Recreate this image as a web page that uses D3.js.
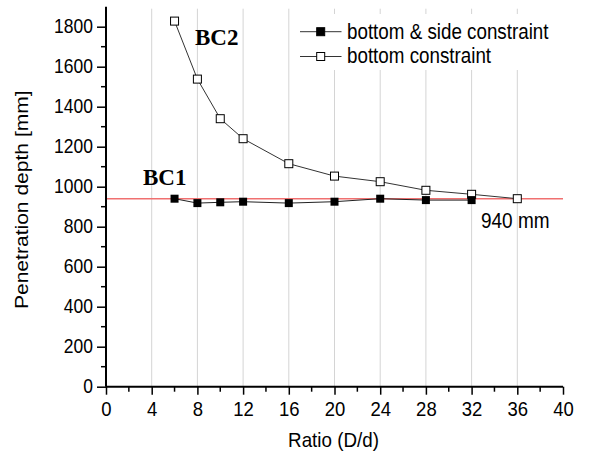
<!DOCTYPE html>
<html>
<head>
<meta charset="utf-8">
<script src="https://cdn.jsdelivr.net/npm/d3@7"></script>
<style>
  html, body { margin: 0; padding: 0; background: #fff; }
  svg { display: block; }
  text { font-family: Arial, "Liberation Sans", sans-serif; fill: #000; }
</style>
</head>
<body>
<svg id="chart" width="589" height="456"></svg>
<script>
// Ratio D/d on the x axis, penetration depth in mm on the y axis
const ratioBoth = [6, 8, 10, 12, 16, 20, 24, 28, 32];
const depthBoth = [940, 918, 922, 925, 918, 925, 940, 933, 933];
const ratioBottom = [6, 8, 10, 12, 16, 20, 24, 28, 32, 36];
const depthBottom = [1828, 1538, 1340, 1240, 1115, 1053, 1025, 982, 962, 940];
const referenceDepth = 940;
const xMajorTicks = [0, 4, 8, 12, 16, 20, 24, 28, 32, 36, 40];
const yMajorTicks = [0, 200, 400, 600, 800, 1000, 1200, 1400, 1600, 1800];
const seriesNames = ["bottom & side constraint", "bottom constraint"];

const svg = d3.select("#chart");
const x = d3.scaleLinear().domain([0, 40]).range([106, 563]);
const y = d3.scaleLinear().domain([0, 1900]).range([386.7, 6.7]);
const SANS = "Arial, 'Liberation Sans', sans-serif";
const SERIF = "'Liberation Serif', 'Times New Roman', serif";

// tall sans text: drawn at (tx, ty) and stretched vertically
function tallText(parent, tx, ty, str, size, stretch, anchor) {
  return parent.append("text")
    .attr("transform", `translate(${tx},${ty}) scale(1,${stretch})`)
    .attr("text-anchor", anchor || "start")
    .attr("font-size", size)
    .style("font-family", SANS)
    .text(str);
}

// vertical grid lines
svg.append("g").selectAll("line")
  .data(xMajorTicks.filter(t => t > 0 && t < 40))
  .join("line")
  .attr("x1", d => x(d)).attr("x2", d => x(d))
  .attr("y1", y(1890)).attr("y2", y(0))
  .attr("stroke", "#d4d4d4").attr("stroke-width", 1);

// reference depth line
svg.append("line")
  .attr("x1", x(0)).attr("x2", x(40))
  .attr("y1", y(referenceDepth)).attr("y2", y(referenceDepth))
  .attr("stroke", "#f07070").attr("stroke-width", 1.5);

const line = d3.line().x(d => x(d[0])).y(d => y(d[1]));
const both = ratioBoth.map((r, i) => [r, depthBoth[i]]);
const bottom = ratioBottom.map((r, i) => [r, depthBottom[i]]);

svg.append("path").datum(bottom).attr("d", line)
  .attr("fill", "none").attr("stroke", "#333").attr("stroke-width", 1);
svg.append("path").datum(both).attr("d", line)
  .attr("fill", "none").attr("stroke", "#222").attr("stroke-width", 1);

const ms = 8;
svg.append("g").selectAll("rect").data(bottom).join("rect")
  .attr("x", d => x(d[0]) - ms / 2).attr("y", d => y(d[1]) - ms / 2)
  .attr("width", ms).attr("height", ms)
  .attr("fill", "#fff").attr("stroke", "#000").attr("stroke-width", 1);
svg.append("g").selectAll("rect").data(both).join("rect")
  .attr("x", d => x(d[0]) - ms / 2).attr("y", d => y(d[1]) - ms / 2)
  .attr("width", ms).attr("height", ms)
  .attr("fill", "#000");

// axes
const xAxis = svg.append("g").attr("transform", `translate(0,${y(0)})`)
  .call(d3.axisBottom(x).tickValues(xMajorTicks).tickSize(8).tickFormat(d3.format("d")));
const yAxis = svg.append("g").attr("transform", `translate(${x(0)},0)`)
  .call(d3.axisLeft(y).tickValues(yMajorTicks).tickSize(9).tickFormat(d3.format("d")));
[xAxis, yAxis].forEach(g => {
  g.select(".domain").attr("stroke", "#000").attr("stroke-width", 2);
  g.selectAll(".tick line").attr("stroke", "#000").attr("stroke-width", 1.5);
  g.selectAll(".tick text").attr("fill", "#000").style("font-family", SANS)
    .attr("x", null).attr("y", null).attr("dy", null);
});
xAxis.selectAll(".tick text").attr("font-size", 18.5)
  .attr("transform", "translate(0,29) scale(1,1.1)");
yAxis.selectAll(".tick text").attr("font-size", 17.5)
  .attr("transform", "translate(-13,6) scale(1,1.15)");
yAxis.select(".domain").attr("d", `M0,${y(0)}V${y(1900)}`);
xAxis.select(".domain").attr("d", `M${x(0)},0H${x(40)}`);

// minor ticks
svg.append("g").selectAll("line")
  .data(d3.range(2, 40, 4))
  .join("line")
  .attr("x1", d => x(d)).attr("x2", d => x(d))
  .attr("y1", y(0)).attr("y2", y(0) + 5)
  .attr("stroke", "#000").attr("stroke-width", 1.5);
svg.append("g").selectAll("line")
  .data(d3.range(100, 1900, 200))
  .join("line")
  .attr("x1", x(0) - 5).attr("x2", x(0))
  .attr("y1", d => y(d)).attr("y2", d => y(d))
  .attr("stroke", "#000").attr("stroke-width", 1.5);

// axis titles
tallText(svg, x(20) - 1, 447, "Ratio (D/d)", 18.8, 1.12, "middle");
svg.append("text")
  .attr("transform", `translate(28,${y(935)}) rotate(-90) scale(1.15,1)`)
  .attr("text-anchor", "middle").attr("font-size", 18.3)
  .style("font-family", SANS)
  .text("Penetration depth [mm]");

// annotations
svg.append("text").attr("x", 143).attr("y", 185)
  .attr("font-weight", "bold").attr("font-size", 23)
  .style("font-family", SERIF)
  .text("BC1");
svg.append("text").attr("x", 195).attr("y", 45)
  .attr("font-weight", "bold").attr("font-size", 23)
  .style("font-family", SERIF)
  .text("BC2");
tallText(svg, 481, 228, `${referenceDepth} mm`, 19, 1.12);

// legend
const legend = svg.append("g");
legend.append("rect").attr("x", 293).attr("y", 14).attr("width", 264).attr("height", 56)
  .attr("fill", "#fff");
const rows = [
  { name: seriesNames[0], fill: "#000", cy: 31.7 },
  { name: seriesNames[1], fill: "#fff", cy: 56.5 }
];
rows.forEach(r => {
  legend.append("line").attr("x1", 300).attr("x2", 341.5)
    .attr("y1", r.cy).attr("y2", r.cy)
    .attr("stroke", "#333").attr("stroke-width", 1);
  legend.append("rect").attr("x", 320.7 - ms / 2).attr("y", r.cy - ms / 2)
    .attr("width", ms).attr("height", ms)
    .attr("fill", r.fill).attr("stroke", "#000").attr("stroke-width", 1);
  tallText(legend, 347, r.cy + 6.8, r.name, 18.8, 1.14);
});
</script>
</body>
</html>
